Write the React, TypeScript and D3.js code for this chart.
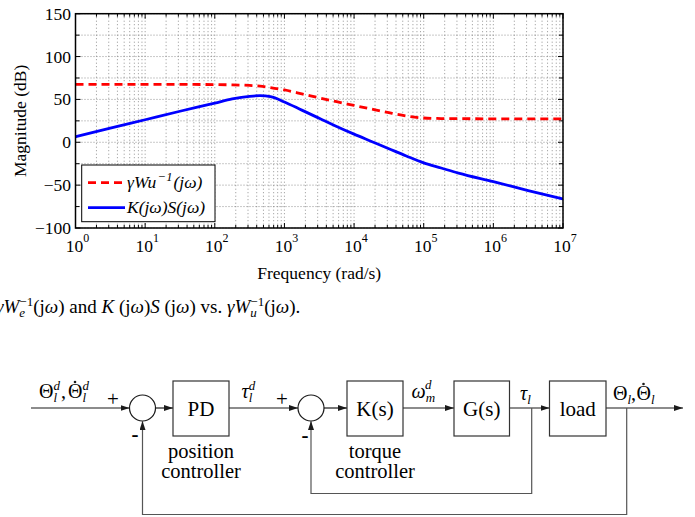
import React from "react";
import * as d3 from "d3";

const WIDTH = 695;
const HEIGHT = 517;

// Frequency samples (rad/s) shared by both magnitude curves
const freq = [
  1, 3.16, 10, 31.6, 100, 178, 316, 447, 631, 1000, 1778, 3162, 5623, 10000,
  17783, 31623, 56234, 100000, 177828, 316228, 1000000, 3162278, 10000000,
];
// gamma * Wu^-1 (dB)
const wuInvDb = [
  67.5, 67.5, 67.5, 67.5, 67.3, 67, 66.3, 65.5, 63.8, 61, 56.5, 51.8, 47.3, 43,
  38.7, 34.5, 30.7, 28.3, 27.7, 27.5, 27.4, 27.4, 27.4,
];
// K(jw) S(jw) (dB)
const ksDb = [
  6.4, 16.4, 26.3, 36.2, 45.6, 50.5, 53.6, 54.4, 53.2, 47, 37.5, 28, 18.5, 9.5,
  1, -7.5, -16, -24, -30, -36, -46, -56.3, -66.2,
];
const yTickLabels = [-100, -50, 0, 50, 100, 150];
const yMinorStep = 25;
const xDecades = [0, 1, 2, 3, 4, 5, 6, 7];

const serif = "'Liberation Serif', 'Times New Roman', serif";

const plot = { left: 75.5, right: 563, top: 13.7, bottom: 228 };

function BodePlot() {
  const x = d3.scaleLog().domain([1, 1e7]).range([plot.left, plot.right]);
  const y = d3.scaleLinear().domain([-100, 150]).range([plot.bottom, plot.top]);

  const line = d3
    .line<number>()
    .x((_, i) => x(freq[i]))
    .y((d) => y(d))
    .curve(d3.curveMonotoneX);

  const gridX: number[] = [];
  for (let d = 0; d < 7; d++) {
    for (let m = 1; m <= 9; m++) gridX.push(m * Math.pow(10, d));
  }
  gridX.push(1e7);
  const gridY = d3.range(-100, 150 + 1, yMinorStep);

  return (
    <g>
      <defs>
        <clipPath id="plotClip">
          <rect x={plot.left} y={plot.top} width={plot.right - plot.left} height={plot.bottom - plot.top} />
        </clipPath>
      </defs>
      <rect x={plot.left} y={plot.top} width={plot.right - plot.left} height={plot.bottom - plot.top} fill="#fff" />
      {/* dotted grid */}
      {gridX.map((f, i) => (
        <line key={"gx" + i} x1={x(f)} x2={x(f)} y1={plot.top} y2={plot.bottom}
          stroke="#777" strokeWidth={0.8} strokeDasharray="1 2.5" />
      ))}
      {gridY.map((v, i) => (
        <line key={"gy" + i} x1={plot.left} x2={plot.right} y1={y(v)} y2={y(v)}
          stroke="#777" strokeWidth={0.8} strokeDasharray="1 2" />
      ))}
      {/* inward ticks */}
      {gridX.map((f, i) => {
        const major = Math.abs(Math.log10(f) - Math.round(Math.log10(f))) < 1e-9;
        const len = major ? 5 : 3;
        return (
          <g key={"tx" + i}>
            <line x1={x(f)} x2={x(f)} y1={plot.bottom} y2={plot.bottom - len} stroke="#000" strokeWidth={1} />
            <line x1={x(f)} x2={x(f)} y1={plot.top} y2={plot.top + len} stroke="#000" strokeWidth={1} />
          </g>
        );
      })}
      {gridY.map((v, i) => {
        const len = v % 50 === 0 ? 5 : 4;
        return (
          <g key={"ty" + i}>
            <line x1={plot.left} x2={plot.left + len} y1={y(v)} y2={y(v)} stroke="#000" strokeWidth={1} />
            <line x1={plot.right} x2={plot.right - len} y1={y(v)} y2={y(v)} stroke="#000" strokeWidth={1} />
          </g>
        );
      })}
      {/* curves */}
      <g clipPath="url(#plotClip)">
        <path d={line(wuInvDb) || ""} fill="none" stroke="#ff0000" strokeWidth={2.8} strokeDasharray="8 5" />
        <path d={line(ksDb) || ""} fill="none" stroke="#0000ff" strokeWidth={2.8} />
      </g>
      <rect x={plot.left} y={plot.top} width={plot.right - plot.left} height={plot.bottom - plot.top}
        fill="none" stroke="#000" strokeWidth={1.5} />
      {/* y tick labels */}
      {yTickLabels.map((v) => (
        <text key={"yl" + v} x={71} y={y(v)} dy="0.34em" textAnchor="end" fontFamily={serif} fontSize={17.5}>
          {v < 0 ? "\u2212" + Math.abs(v) : v}
        </text>
      ))}
      {/* x tick labels */}
      {xDecades.map((e) => (
        <text key={"xl" + e} x={x(Math.pow(10, e)) + 2} y={252} textAnchor="middle" fontFamily={serif} fontSize={17.5}>
          10
          <tspan dy={-10} fontSize={12}>{e}</tspan>
        </text>
      ))}
      <text x={(plot.left + plot.right) / 2} y={279} textAnchor="middle" fontFamily={serif} fontSize={17.5}>
        Frequency (rad/s)
      </text>
      <text transform={`translate(26, ${(plot.top + plot.bottom) / 2}) rotate(-90)`} textAnchor="middle"
        fontFamily={serif} fontSize={17.5}>
        Magnitude (dB)
      </text>
      {/* legend */}
      <rect x={81.7} y={165} width={133.3} height={56.7} fill="#fff" stroke="#000" strokeWidth={1} />
      <line x1={88} x2={125} y1={182.7} y2={182.7} stroke="#ff0000" strokeWidth={2.8} strokeDasharray="8 5" />
      <text x={127} y={182.7} dy="0.33em" fontFamily={serif} fontSize={17.5} fontStyle="italic">
        γWu
        <tspan dx={1.5} dy={-7} fontSize={12.5}>−1</tspan>
        <tspan dx={1} dy={7}>(jω)</tspan>
      </text>
      <line x1={88} x2={125} y1={207.7} y2={207.7} stroke="#0000ff" strokeWidth={2.8} />
      <text x={127} y={207.7} dy="0.33em" fontFamily={serif} fontSize={17.5} fontStyle="italic">
        K(jω)S(jω)
      </text>
    </g>
  );
}

function Caption() {
  const fs = 19;
  const ss = 13;
  return (
    <text x={-4} y={312.7} fontFamily={serif} fontSize={fs}>
      <tspan fontStyle="italic">γW</tspan>
      <tspan dy={4} fontSize={ss} fontStyle="italic">e</tspan>
      <tspan dx={-5.8} dy={-11} fontSize={ss}>−1</tspan>
      <tspan dy={7}>(j</tspan>
      <tspan fontStyle="italic">ω</tspan>
      <tspan>) and </tspan>
      <tspan fontStyle="italic">K</tspan>
      <tspan> (j</tspan>
      <tspan fontStyle="italic">ω</tspan>
      <tspan>)</tspan>
      <tspan fontStyle="italic">S</tspan>
      <tspan> (j</tspan>
      <tspan fontStyle="italic">ω</tspan>
      <tspan>) vs. </tspan>
      <tspan fontStyle="italic">γW</tspan>
      <tspan dy={4} fontSize={ss} fontStyle="italic">u</tspan>
      <tspan dx={-6.5} dy={-11} fontSize={ss}>−1</tspan>
      <tspan dy={7}>(j</tspan>
      <tspan fontStyle="italic">ω</tspan>
      <tspan>).</tspan>
    </text>
  );
}

// Block diagram layout
const mainY = 408;
const sumR = 13;
const sum1 = { x: 142.5, y: mainY };
const sum2 = { x: 311, y: mainY };
const boxTop = 381;
const boxBottom = 436;
const blocks = [
  { label: "PD", x0: 173, x1: 229 },
  { label: "K(s)", x0: 347, x1: 403 },
  { label: "G(s)", x0: 454, x1: 509.5 },
  { label: "load", x0: 549.5, x1: 606 },
];
const innerTapX = 531.7;
const outerTapX = 626.7;
const innerLoopY = 493.5;
const outerLoopY = 514.5;

// Theta symbol with an optional time-derivative dot, subscript l and optional superscript d
function Theta({ x, y, dot, sup }: { x: number; y: number; dot?: boolean; sup?: boolean }) {
  return (
    <g>
      <text x={x} y={y} fontSize={20}>
        Θ<tspan dy={4} fontSize={13} fontStyle="italic">l</tspan>
        {sup ? <tspan dx={-3.6} dy={-12} fontSize={13} fontStyle="italic">d</tspan> : null}
      </text>
      {dot ? <circle cx={x + 7} cy={y - 16} r={1.3} fill="#1a1a1a" /> : null}
    </g>
  );
}

function BlockDiagram() {
  const ink = "#1a1a1a";
  const fb = "#555";
  const [pd, ks, gs, load] = blocks;
  const fs = 21;
  return (
    <g fontFamily={serif}>
      <defs>
        <marker id="arr" viewBox="0 0 9 6" refX={9} refY={3} markerWidth={9} markerHeight={6}
          markerUnits="userSpaceOnUse" orient="auto">
          <path d="M0,0 L9,3 L0,6 z" fill={ink} />
        </marker>
      </defs>
      {/* forward path */}
      <line x1={31} x2={sum1.x - sumR} y1={mainY} y2={mainY} stroke={ink} strokeWidth={1.2} markerEnd="url(#arr)" />
      <circle cx={sum1.x} cy={sum1.y} r={sumR} fill="none" stroke={ink} strokeWidth={1.2} />
      <line x1={sum1.x + sumR} x2={pd.x0} y1={mainY} y2={mainY} stroke={ink} strokeWidth={1.2} markerEnd="url(#arr)" />
      <line x1={pd.x1} x2={sum2.x - sumR} y1={mainY} y2={mainY} stroke={ink} strokeWidth={1.2} markerEnd="url(#arr)" />
      <circle cx={sum2.x} cy={sum2.y} r={sumR} fill="none" stroke={ink} strokeWidth={1.2} />
      <line x1={sum2.x + sumR} x2={ks.x0} y1={mainY} y2={mainY} stroke={ink} strokeWidth={1.2} markerEnd="url(#arr)" />
      <line x1={ks.x1} x2={gs.x0} y1={mainY} y2={mainY} stroke={ink} strokeWidth={1.2} markerEnd="url(#arr)" />
      <line x1={gs.x1} x2={load.x0} y1={mainY} y2={mainY} stroke={ink} strokeWidth={1.2} markerEnd="url(#arr)" />
      <line x1={load.x1} x2={683} y1={mainY} y2={mainY} stroke={ink} strokeWidth={1.2} markerEnd="url(#arr)" />
      {/* feedback paths */}
      <polyline points={`${innerTapX},${mainY} ${innerTapX},${innerLoopY} ${sum2.x},${innerLoopY} ${sum2.x},${sum2.y + sumR}`}
        fill="none" stroke={fb} strokeWidth={1.2} markerEnd="url(#arr)" />
      <polyline points={`${outerTapX},${mainY} ${outerTapX},${outerLoopY} ${sum1.x},${outerLoopY} ${sum1.x},${sum1.y + sumR}`}
        fill="none" stroke={fb} strokeWidth={1.2} markerEnd="url(#arr)" />
      {/* blocks */}
      {blocks.map((b) => (
        <g key={b.label}>
          <rect x={b.x0} y={boxTop} width={b.x1 - b.x0} height={boxBottom - boxTop} fill="#fff" stroke="#333" strokeWidth={1.2} />
          <text x={(b.x0 + b.x1) / 2} y={(boxTop + boxBottom) / 2 + 7} textAnchor="middle" fontSize={fs}>
            {b.label}
          </text>
        </g>
      ))}
      <text x={(pd.x0 + pd.x1) / 2} y={457.5} textAnchor="middle" fontSize={20.5}>position</text>
      <text x={(pd.x0 + pd.x1) / 2} y={478} textAnchor="middle" fontSize={20.5}>controller</text>
      <text x={(ks.x0 + ks.x1) / 2} y={457.5} textAnchor="middle" fontSize={20.5}>torque</text>
      <text x={(ks.x0 + ks.x1) / 2} y={478} textAnchor="middle" fontSize={20.5}>controller</text>
      {/* signal labels */}
      <Theta x={39} y={398} sup />
      <text x={61} y={398} fontSize={20}>,</text>
      <Theta x={68} y={398} sup dot />
      <text x={113} y={406} textAnchor="middle" fontSize={21}>+</text>
      <text x={135} y={441} textAnchor="middle" fontSize={21} fontWeight="bold">-</text>
      <text x={241.5} y={398} fontSize={20} fontStyle="italic">
        τ<tspan dy={4} fontSize={13}>l</tspan>
        <tspan dx={-3.6} dy={-12} fontSize={13}>d</tspan>
      </text>
      <text x={282} y={406} textAnchor="middle" fontSize={21}>+</text>
      <text x={305} y={442} textAnchor="middle" fontSize={21} fontWeight="bold">-</text>
      <text x={411.5} y={398} fontSize={20} fontStyle="italic">
        ω<tspan dy={4} fontSize={13}>m</tspan>
        <tspan dx={-10} dy={-13} fontSize={13}>d</tspan>
      </text>
      <text x={520} y={400} fontSize={20} fontStyle="italic">
        τ<tspan dy={4} fontSize={13}>l</tspan>
      </text>
      <Theta x={613} y={400} />
      <text x={631} y={400} fontSize={20}>,</text>
      <Theta x={636.5} y={400} dot />
    </g>
  );
}

export default function App() {
  return (
    <div style={{ position: "absolute", left: 0, top: 0, width: WIDTH, height: HEIGHT, background: "#fff" }}>
      <svg width={WIDTH} height={HEIGHT} viewBox={`0 0 ${WIDTH} ${HEIGHT}`} style={{ display: "block" }}>
        <rect width={WIDTH} height={HEIGHT} fill="#fff" />
        <BodePlot />
        <Caption />
        <BlockDiagram />
      </svg>
    </div>
  );
}
